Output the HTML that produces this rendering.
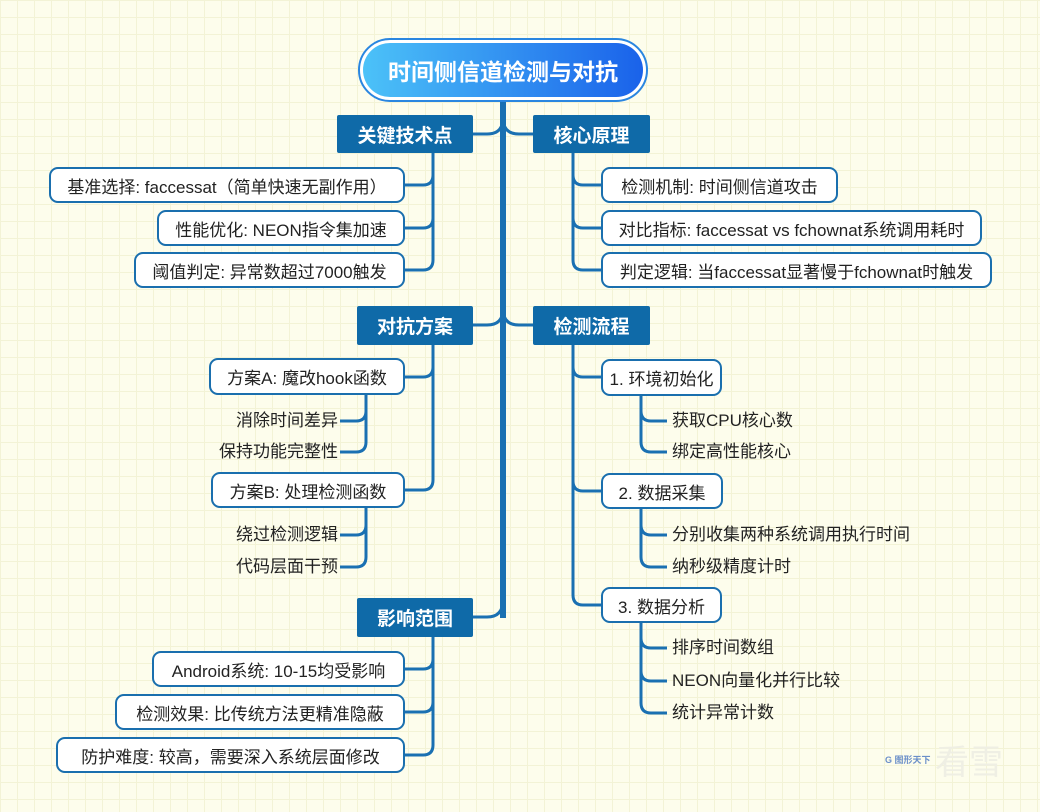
<!DOCTYPE html>
<html><head><meta charset="utf-8"><style>
html,body{margin:0;padding:0}
body{width:1040px;height:812px;overflow:hidden;background-color:#fdfdec;
background-image:linear-gradient(#f3f3d6 1px,transparent 1px),linear-gradient(90deg,#f3f3d6 1px,transparent 1px);background-size:17px 17px;
font-family:"Liberation Sans","Noto Sans CJK SC",sans-serif;position:relative}
.b{position:absolute;box-sizing:border-box;background:#fff;border:2px solid #1a6fae;border-radius:9px;font-size:17px;color:#222;display:flex;align-items:center;justify-content:center;white-space:nowrap}
.l1{position:absolute;box-sizing:border-box;background:#0f6aa8;color:#fff;font-weight:bold;font-size:19px;display:flex;align-items:center;justify-content:center;border-radius:2px}
.t{position:absolute;font-size:17px;color:#222;white-space:nowrap;line-height:20px}
.root{position:absolute;left:358px;top:38px;width:290px;height:64px;box-sizing:border-box;border-radius:32px;border:2px solid #2a86e0;background:#fff;padding:3px}
.root div{width:100%;height:100%;border-radius:28px;background:linear-gradient(90deg,#4cc2f8,#1a62ea);color:#fff;font-weight:bold;font-size:23px;display:flex;align-items:center;justify-content:center}
</style></head><body>
<svg width="1040" height="812" style="position:absolute;left:0;top:0" fill="none" stroke="#1a70b2">
<path d="M503,100 V618" stroke-width="6"/>
<g stroke-width="3">
<path d="M503,118 Q503,134 487,134 H473 M503,118 Q503,134 519,134 H533"/>
<path d="M503,309 Q503,325 487,325 H473 M503,309 Q503,325 519,325 H533"/>
<path d="M503,600 Q503,617 487,617 H473"/>
<path d="M433,153 V175 Q433,185 423,185 H405 M433,153 V218 Q433,228 423,228 H405 M433,153 V260 Q433,270 423,270 H405"/>
<path d="M433,345 V367 Q433,377 423,377 H405 M433,345 V480 Q433,490 423,490 H405"/>
<path d="M366,395 V411 Q366,421 356,421 H340 M366,395 V442 Q366,452 356,452 H340"/>
<path d="M366,508 V525 Q366,535 356,535 H340 M366,508 V557 Q366,567 356,567 H340"/>
<path d="M433,637 V659 Q433,669 423,669 H405 M433,637 V702 Q433,712 423,712 H405 M433,637 V745 Q433,755 423,755 H405"/>
<path d="M573,153 V175 Q573,185 583,185 H601 M573,153 V218 Q573,228 583,228 H601 M573,153 V260 Q573,270 583,270 H601"/>
<path d="M573,345 V367 Q573,377 583,377 H601 M573,345 V481 Q573,491 583,491 H601 M573,345 V595 Q573,605 583,605 H601"/>
<path d="M641,396 V411 Q641,421 651,421 H667 M641,396 V442 Q641,452 651,452 H667"/>
<path d="M641,509 V525 Q641,535 651,535 H667 M641,509 V557 Q641,567 651,567 H667"/>
<path d="M641,623 V638 Q641,648 651,648 H667 M641,623 V671 Q641,681 651,681 H667 M641,623 V703 Q641,713 651,713 H667"/>
</g></svg>
<div class="root"><div>时间侧信道检测与对抗</div></div>
<div class="l1" style="left:337px;top:115px;width:136px;height:38px">关键技术点</div>
<div class="l1" style="left:533px;top:115px;width:117px;height:38px">核心原理</div>
<div class="l1" style="left:357px;top:306px;width:116px;height:39px">对抗方案</div>
<div class="l1" style="left:533px;top:306px;width:117px;height:39px">检测流程</div>
<div class="l1" style="left:357px;top:598px;width:116px;height:39px">影响范围</div>
<div class="b" style="left:49px;top:167px;width:356px;height:36px">基准选择: faccessat（简单快速无副作用）</div>
<div class="b" style="left:157px;top:210px;width:248px;height:36px">性能优化: NEON指令集加速</div>
<div class="b" style="left:134px;top:252px;width:271px;height:36px">阈值判定: 异常数超过7000触发</div>
<div class="b" style="left:209px;top:358px;width:196px;height:37px">方案A: 魔改hook函数</div>
<div class="t" style="right:702px;top:411px">消除时间差异</div>
<div class="t" style="right:702px;top:442px">保持功能完整性</div>
<div class="b" style="left:211px;top:472px;width:194px;height:36px">方案B: 处理检测函数</div>
<div class="t" style="right:702px;top:525px">绕过检测逻辑</div>
<div class="t" style="right:702px;top:557px">代码层面干预</div>
<div class="b" style="left:152px;top:651px;width:253px;height:36px">Android系统: 10-15均受影响</div>
<div class="b" style="left:115px;top:694px;width:290px;height:36px">检测效果: 比传统方法更精准隐蔽</div>
<div class="b" style="left:56px;top:737px;width:349px;height:36px">防护难度: 较高，需要深入系统层面修改</div>
<div class="b" style="left:601px;top:167px;width:237px;height:36px">检测机制: 时间侧信道攻击</div>
<div class="b" style="left:601px;top:210px;width:381px;height:36px">对比指标: faccessat vs fchownat系统调用耗时</div>
<div class="b" style="left:601px;top:252px;width:391px;height:36px">判定逻辑: 当faccessat显著慢于fchownat时触发</div>
<div class="b" style="left:601px;top:359px;width:121px;height:37px">1. 环境初始化</div>
<div class="t" style="left:672px;top:411px">获取CPU核心数</div>
<div class="t" style="left:672px;top:442px">绑定高性能核心</div>
<div class="b" style="left:601px;top:473px;width:122px;height:36px">2. 数据采集</div>
<div class="t" style="left:672px;top:525px">分别收集两种系统调用执行时间</div>
<div class="t" style="left:672px;top:557px">纳秒级精度计时</div>
<div class="b" style="left:601px;top:587px;width:121px;height:36px">3. 数据分析</div>
<div class="t" style="left:672px;top:638px">排序时间数组</div>
<div class="t" style="left:672px;top:671px">NEON向量化并行比较</div>
<div class="t" style="left:672px;top:703px">统计异常计数</div>
<div style="position:absolute;left:935px;top:735px;font-size:34px;color:#efefe4">看雪</div>
<div style="position:absolute;left:885px;top:753px;font-size:9px;color:#6b8fc9;font-weight:bold">G 图形天下</div>
</body></html>
